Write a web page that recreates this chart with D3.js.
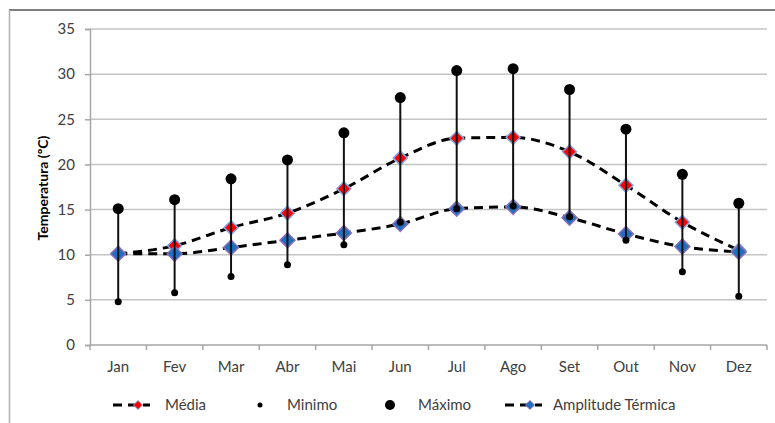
<!DOCTYPE html>
<html>
<head>
<meta charset="utf-8">
<script src="https://cdn.jsdelivr.net/npm/d3@7"></script>
<style>
  body { margin: 0; background: #fff; }
  text { font-family: Lato, "Liberation Sans", sans-serif; }
</style>
</head>
<body>
<div id="chart"></div>
<script>
// Monthly data
const months = ["Jan", "Fev", "Mar", "Abr", "Mai", "Jun", "Jul", "Ago", "Set", "Out", "Nov", "Dez"];
const media = [10.1, 11.0, 13.0, 14.6, 17.3, 20.7, 22.9, 23.0, 21.4, 17.7, 13.6, 10.5];
const minimo = [4.8, 5.8, 7.6, 8.9, 11.1, 13.6, 15.1, 15.4, 14.2, 11.6, 8.1, 5.4];
const maximo = [15.1, 16.1, 18.4, 20.5, 23.5, 27.4, 30.4, 30.6, 28.3, 23.9, 18.9, 15.7];
const amplitude = [10.1, 10.1, 10.8, 11.6, 12.4, 13.4, 15.1, 15.3, 14.1, 12.3, 10.9, 10.3];
const yTicks = [0, 5, 10, 15, 20, 25, 30, 35];

const width = 775, height = 423;
const plotLeft = 90, plotRight = 767, plotTop = 29, plotBottom = 345;

const svg = d3.select("#chart").append("svg")
    .attr("width", width)
    .attr("height", height);

// Frame
svg.append("line").attr("x1", 9).attr("x2", 775).attr("y1", 10).attr("y2", 10)
    .attr("stroke", "#7f7f7f").attr("stroke-width", 2);
svg.append("line").attr("x1", 9.5).attr("x2", 9.5).attr("y1", 10).attr("y2", 423)
    .attr("stroke", "#b0b0b0").attr("stroke-width", 1.5);

// Scales
const x = d3.scaleBand().domain(months).range([plotLeft, plotRight]);
const y = d3.scaleLinear().domain([0, 35]).range([plotBottom, plotTop]);
const cx = m => x(m) + x.bandwidth() / 2;

// Gridlines
svg.append("g").selectAll("line")
    .data(yTicks.filter(d => d > 0))
    .enter().append("line")
    .attr("x1", plotLeft).attr("x2", plotRight)
    .attr("y1", d => y(d)).attr("y2", d => y(d))
    .attr("stroke", "#c4c4c4").attr("stroke-width", 1.5);

// Y axis
const yAxis = svg.append("g")
    .attr("transform", `translate(${plotLeft},0)`)
    .call(d3.axisLeft(y).tickValues(yTicks).tickSize(5).tickPadding(10));
yAxis.select(".domain").attr("stroke", "#a6a6a6").attr("stroke-width", 1.5);
yAxis.selectAll(".tick line").attr("stroke", "#a6a6a6").attr("stroke-width", 1.5);
yAxis.selectAll("text").attr("font-size", 15).attr("fill", "#404040")
    .style("font-family", "Lato, sans-serif");

// X axis (ticks at band boundaries)
svg.append("line").attr("x1", plotLeft).attr("x2", plotRight).attr("y1", plotBottom).attr("y2", plotBottom)
    .attr("stroke", "#a6a6a6").attr("stroke-width", 1.5);
svg.append("g").selectAll("line")
    .data(months.concat(["end"]))
    .enter().append("line")
    .attr("x1", (d, i) => plotLeft + i * x.step())
    .attr("x2", (d, i) => plotLeft + i * x.step())
    .attr("y1", plotBottom).attr("y2", plotBottom + 5)
    .attr("stroke", "#a6a6a6").attr("stroke-width", 1.5);
svg.append("g").selectAll("text")
    .data(months)
    .enter().append("text")
    .attr("x", d => cx(d))
    .attr("y", 372)
    .attr("text-anchor", "middle")
    .attr("font-size", 15)
    .attr("fill", "#404040")
    .text(d => d);

// Y axis title
svg.append("text")
    .attr("transform", "translate(48,188) rotate(-90)")
    .attr("text-anchor", "middle")
    .attr("font-size", 14)
    .attr("font-weight", "bold")
    .attr("fill", "#000")
    .text("Temperatura (ºC)");

// Smoothed dashed lines
const line = d3.line()
    .x((d, i) => cx(months[i]))
    .y(d => y(d))
    .curve(d3.curveMonotoneX);

[media, amplitude].forEach(series => {
    svg.append("path")
        .datum(series)
        .attr("d", line)
        .attr("fill", "none")
        .attr("stroke", "#000")
        .attr("stroke-width", 3)
        .attr("stroke-dasharray", "9,6");
});

// Diamonds
const diamond = (px, py, r) => `M${px},${py - r}L${px + r},${py}L${px},${py + r}L${px - r},${py}Z`;

svg.append("g").selectAll("path")
    .data(media)
    .enter().append("path")
    .attr("d", (d, i) => diamond(cx(months[i]), y(d), 7))
    .attr("fill", "#ff0000")
    .attr("stroke", "#7ea6e0")
    .attr("stroke-width", 1.5);

svg.append("g").selectAll("path")
    .data(amplitude)
    .enter().append("path")
    .attr("d", (d, i) => diamond(cx(months[i]), y(d), 7.5))
    .attr("fill", "#1f6fc0")
    .attr("stroke", "#8a70b8")
    .attr("stroke-width", 1.5);

// High-low lines
svg.append("g").selectAll("line")
    .data(months)
    .enter().append("line")
    .attr("x1", d => cx(d)).attr("x2", d => cx(d))
    .attr("y1", (d, i) => y(minimo[i]))
    .attr("y2", (d, i) => y(maximo[i]))
    .attr("stroke", "#111")
    .attr("stroke-width", 2);

// Min / max dots
svg.append("g").selectAll("circle")
    .data(minimo)
    .enter().append("circle")
    .attr("cx", (d, i) => cx(months[i]))
    .attr("cy", d => y(d))
    .attr("r", 3.5)
    .attr("fill", "#000");

svg.append("g").selectAll("circle")
    .data(maximo)
    .enter().append("circle")
    .attr("cx", (d, i) => cx(months[i]))
    .attr("cy", d => y(d))
    .attr("r", 5.5)
    .attr("fill", "#000");

// Legend
const ly = 405;
const legend = svg.append("g");

function lineDiamond(x0, color, stroke, label, tx) {
    legend.append("line").attr("x1", x0).attr("x2", x0 + 37).attr("y1", ly).attr("y2", ly)
        .attr("stroke", "#000").attr("stroke-width", 3).attr("stroke-dasharray", "9,6");
    legend.append("path").attr("d", diamond(x0 + 25, ly, 4.5))
        .attr("fill", color).attr("stroke", stroke).attr("stroke-width", 1);
    legend.append("text").attr("x", tx).attr("y", ly + 5)
        .attr("font-size", 15).attr("fill", "#404040").text(label);
}

lineDiamond(113, "#ff0000", "#7ea6e0", "Média", 165);
legend.append("circle").attr("cx", 260).attr("cy", ly).attr("r", 2.5).attr("fill", "#000");
legend.append("text").attr("x", 287).attr("y", ly + 5)
    .attr("font-size", 15).attr("fill", "#404040").text("Minimo");
legend.append("circle").attr("cx", 390).attr("cy", ly).attr("r", 5).attr("fill", "#000");
legend.append("text").attr("x", 418).attr("y", ly + 5)
    .attr("font-size", 15).attr("fill", "#404040").text("Máximo");
lineDiamond(505, "#1f6fc0", "#8a70b8", "Amplitude Térmica", 553);
</script>
</body>
</html>
